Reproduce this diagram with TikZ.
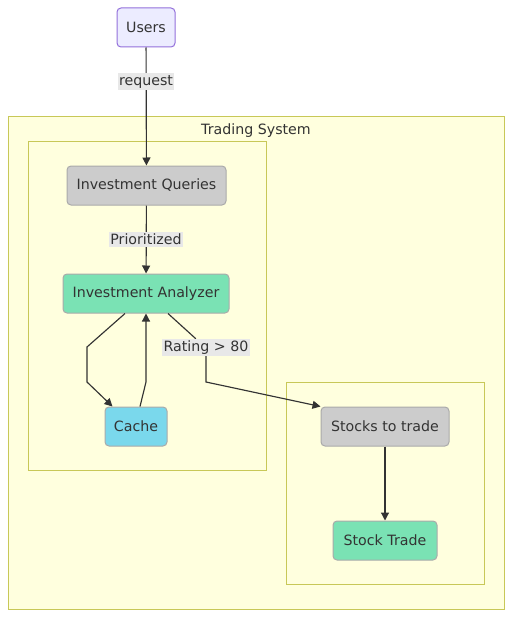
\documentclass[tikz,border=0pt]{standalone}
\usepackage{fontspec}
\setmainfont{DejaVu Sans}
\usetikzlibrary{arrows.meta}
\definecolor{txt}{HTML}{333333}
\definecolor{clfill}{HTML}{FFFFDE}
\definecolor{cldraw}{HTML}{C8C858}
\definecolor{userfill}{HTML}{ECECFF}
\definecolor{userdraw}{HTML}{9370DB}
\definecolor{grayfill}{HTML}{CCCCCC}
\definecolor{graydraw}{HTML}{AAAAAA}
\definecolor{greenfill}{HTML}{7AE2B4}
\definecolor{cachefill}{HTML}{7AD8EC}
\definecolor{lblfill}{HTML}{E8E8E8}
\tikzset{
  every node/.style={font=\fontsize{14.2}{17}\selectfont, text=txt},
  box/.style={rounded corners=4pt, line width=1pt, minimum height=39pt, inner sep=0pt},
  grbox/.style={box, fill=grayfill, draw=graydraw},
  gnbox/.style={box, fill=greenfill, draw=graydraw},
  cluster/.style={fill=clfill, draw=cldraw, line width=1pt},
  lbl/.style={fill=lblfill, inner xsep=1.5pt, inner ysep=2pt},
  edge/.style={draw=txt, line width=1.15pt, -{Triangle[length=8pt,width=8pt]}},
}
\begin{document}
\begin{tikzpicture}[x=1pt,y=-1pt]
\useasboundingbox (0,0) rectangle (512,618);
\fill[white] (0,0) rectangle (512,618);
% clusters
\draw[cluster] (8,116) rectangle (504,609);
\node (ts) at (256,131) {Trading System};
\draw[cluster] (28,141) rectangle (266,470);
\draw[cluster] (286,382) rectangle (484,584);
% nodes
\node[box, fill=userfill, draw=userdraw, minimum width=58pt] (users) at (146,27.5) {Users};
\node[grbox, minimum width=159pt] (iq) at (146.5,185.5) {Investment Queries};
\node[gnbox, minimum width=166pt] (ia) at (146,293.5) {Investment Analyzer};
\node[box, fill=cachefill, draw=graydraw, minimum width=62pt] (cache) at (136,426.5) {Cache};
\node[grbox, minimum width=128pt] (st) at (385,426.5) {Stocks to trade};
\node[gnbox, minimum width=104pt] (trade) at (385,540.5) {Stock Trade};
% edges
\draw[edge] (users) -- (iq);
\node[lbl] (l1) at (146,81.5) {request};
\draw[edge] (iq) -- (ia);
\node[lbl] (l2) at (146,239.5) {Prioritized};
\draw[edge] (st) -- (trade);
\coordinate (a1) at (125,313.5);
\coordinate (a2) at (87,347);
\coordinate (a3) at (87,382);
\coordinate (c1) at (140,406.5);
\coordinate (c2) at (146,382);
\draw[edge] (a1) -- (a2) -- (a3) -- ([xshift=8pt]cache.north west);
\draw[edge] (c1) -- (c2) -- (ia.south);
\coordinate (r1) at (168,313.5);
\coordinate (r2) at (195,338);
\coordinate (r3) at (206,356);
\coordinate (r4) at (206,382);
\draw[edge] (r1) -- (r2) -- (r3) -- (r4) -- (st.north west);
\node[lbl] (l3) at (206,347.5) {Rating > 80};
\end{tikzpicture}
\end{document}
